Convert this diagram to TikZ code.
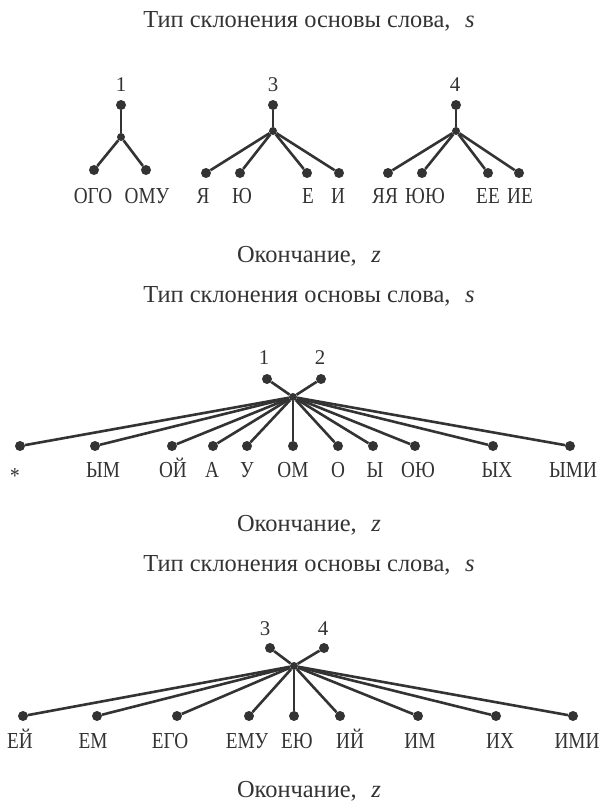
\documentclass[tikz,border=0pt]{standalone}
\usepackage{fontspec}
\setmainfont{Liberation Serif}
\newfontfamily\endingfont[FakeStretch=0.84]{Liberation Serif}
\definecolor{ink}{gray}{0.2}
\tikzset{
  dot/.style={circle, fill=ink, inner sep=0pt, minimum size=10bp},
  hub/.style={circle, fill=ink, inner sep=0pt, minimum size=8bp},
  link/.style={draw=ink, line width=2.6bp},
  lbl/.style={text=ink, inner sep=0pt, anchor=base, font=\endingfont\fontsize{23}{26}\selectfont},
  num/.style={text=ink, inner sep=0pt, anchor=base, font=\fontsize{21}{24}\selectfont},
  axis/.style={text=ink, inner sep=0pt, anchor=base, font=\fontsize{24.5}{28}\selectfont}
}
\begin{document}
\begin{tikzpicture}[x=1bp, y=-1bp]
\useasboundingbox[fill=white] (0,0) rectangle (603,811);

% ---------- Panel 1: types 1, 3, 4 ----------
\node[axis] (s1) at (309,28) {Тип склонения основы слова,\hspace{0.6em}\textit{s}};
\node[axis] (z1) at (309,262) {Окончание,\hspace{0.6em}\textit{z}};

% type 1
\node[num] (na) at (121,91) {1};
\node[dot] (ta) at (121,105) {};
\node[hub] (ja) at (121,137) {};
\draw[link] (ta) -- (ja);
\foreach \id/\dx/\lx/\txt in {1/94/93/ОГО, 2/146/147/ОМУ}{
  \node[dot] (pa\id) at (\dx,170) {};
  \node[lbl] (qa\id) at (\lx,203) {\txt};
  \draw[link] (ja) -- (pa\id);
}

% type 3
\node[num] (nb) at (273,91) {3};
\node[dot] (tb) at (273,105) {};
\node[hub] (jb) at (273,131) {};
\draw[link] (tb) -- (jb);
\foreach \id/\dx/\lx/\txt in {1/206/203/Я, 2/240/242/Ю, 3/307/308/Е, 4/339/338/И}{
  \node[dot] (pb\id) at (\dx,173) {};
  \node[lbl] (qb\id) at (\lx,203) {\txt};
  \draw[link] (jb) -- (pb\id);
}

% type 4
\node[num] (nc) at (455,91) {4};
\node[dot] (tc) at (456,105) {};
\node[hub] (jc) at (456,131) {};
\draw[link] (tc) -- (jc);
\foreach \id/\dx/\lx/\txt in {1/388/385/ЯЯ, 2/422/425/ЮЮ, 3/488/488/ЕЕ, 4/519/520/ИЕ}{
  \node[dot] (pc\id) at (\dx,173) {};
  \node[lbl] (qc\id) at (\lx,203) {\txt};
  \draw[link] (jc) -- (pc\id);
}

% ---------- Panel 2: types 1 and 2 ----------
\node[axis] (s2) at (309,302) {Тип склонения основы слова,\hspace{0.6em}\textit{s}};
\node[axis] (z2) at (309,531) {Окончание,\hspace{0.6em}\textit{z}};
\node[num] (nd1) at (264,364) {1};
\node[num] (nd2) at (320,364) {2};
\node[dot] (td1) at (267,379) {};
\node[dot] (td2) at (321,379) {};
\node[hub] (jd) at (293,397) {};
\draw[link] (td1) -- (jd);
\draw[link] (td2) -- (jd);
\foreach \id/\dx/\lx/\txt in {1/20/15/\raisebox{-6bp}{*}, 2/95/103/ЫМ, 3/172/173/ОЙ, 4/213/212/А,
    5/247/247/У, 6/293/293/ОМ, 7/338/338/О, 8/373/375/Ы, 9/415/418/ОЮ,
    10/493/497/ЫХ, 11/570/573/ЫМИ}{
  \node[dot] (pd\id) at (\dx,446) {};
  \node[lbl] (qd\id) at (\lx,477) {\txt};
  \draw[link] (jd) -- (pd\id);
}

% ---------- Panel 3: types 3 and 4 ----------
\node[axis] (s3) at (309,571) {Тип склонения основы слова,\hspace{0.6em}\textit{s}};
\node[axis] (z3) at (309,797) {Окончание,\hspace{0.6em}\textit{z}};
\node[num] (ne1) at (265,635) {3};
\node[num] (ne2) at (323,635) {4};
\node[dot] (te1) at (270,648) {};
\node[dot] (te2) at (324,648) {};
\node[hub] (je) at (294,666) {};
\draw[link] (te1) -- (je);
\draw[link] (te2) -- (je);
\foreach \id/\dx/\lx/\txt in {1/23/20/ЕЙ, 2/97/93/ЕМ, 3/177/170/ЕГО, 4/249/247/ЕМУ,
    5/294/297/ЕЮ, 6/340/350/ИЙ, 7/418/420/ИМ, 8/496/500/ИХ, 9/573/577/ИМИ}{
  \node[dot] (pe\id) at (\dx,716) {};
  \node[lbl] (qe\id) at (\lx,748) {\txt};
  \draw[link] (je) -- (pe\id);
}
\end{tikzpicture}
\end{document}
